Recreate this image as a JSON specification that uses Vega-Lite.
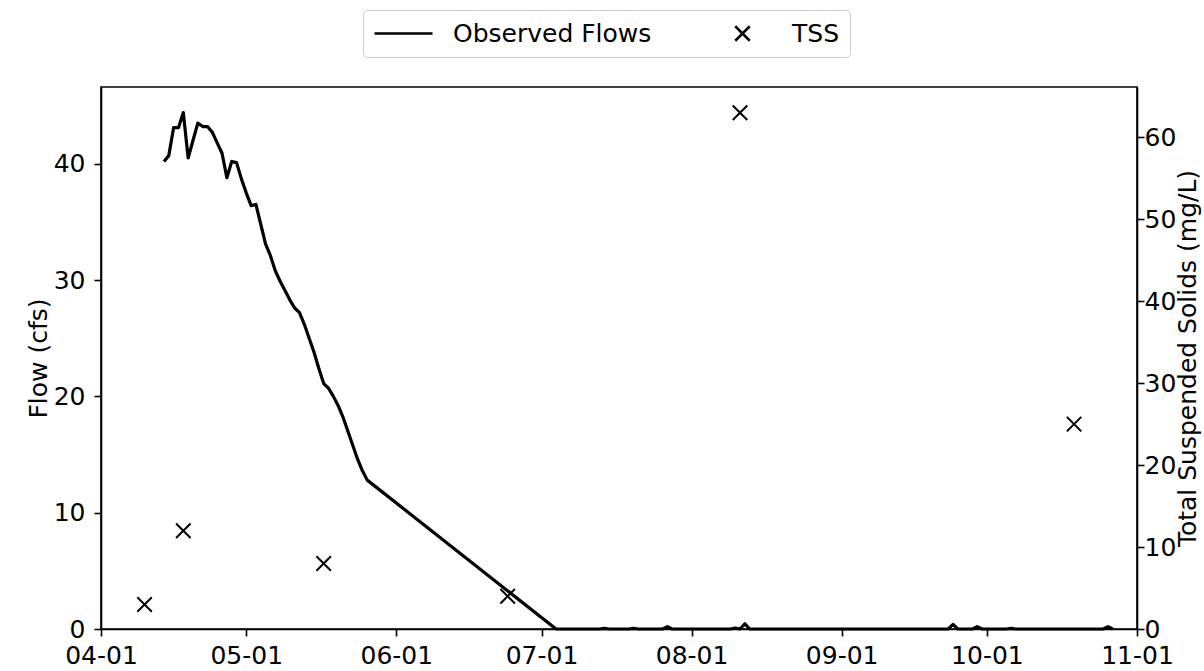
{
  "$schema": "https://vega.github.io/schema/vega-lite/v6.json",
  "width": 1036,
  "height": 542,
  "autosize": {"type": "none"},
  "padding": {"left": 101, "top": 87, "right": 67, "bottom": 42},
  "background": "white",
  "config": {
    "font": "DejaVu Sans",
    "view": {"stroke": "black", "strokeWidth": 1.6},
    "axis": {
      "domainColor": "black", "domainWidth": 1.6,
      "tickColor": "black", "tickWidth": 1.6, "tickSize": 7,
      "labelFontSize": 25, "labelColor": "black", "labelPadding": 6,
      "titleFontSize": 25, "titleFontWeight": "normal", "titleColor": "black",
      "grid": false, "labelOverlap": false
    }
  },
  "datasets": {
    "flow": [
      {"date": "2021-04-14T00:00:00", "flow": 40.2},
      {"date": "2021-04-15T00:00:00", "flow": 40.7},
      {"date": "2021-04-16T00:00:00", "flow": 43.1},
      {"date": "2021-04-17T00:00:00", "flow": 43.1},
      {"date": "2021-04-18T00:00:00", "flow": 44.4},
      {"date": "2021-04-19T00:00:00", "flow": 40.5},
      {"date": "2021-04-20T00:00:00", "flow": 42.0},
      {"date": "2021-04-21T00:00:00", "flow": 43.5},
      {"date": "2021-04-22T00:00:00", "flow": 43.2},
      {"date": "2021-04-23T00:00:00", "flow": 43.2},
      {"date": "2021-04-24T00:00:00", "flow": 42.7},
      {"date": "2021-04-25T00:00:00", "flow": 41.8},
      {"date": "2021-04-26T00:00:00", "flow": 40.9},
      {"date": "2021-04-27T00:00:00", "flow": 38.8},
      {"date": "2021-04-28T00:00:00", "flow": 40.2},
      {"date": "2021-04-29T00:00:00", "flow": 40.1},
      {"date": "2021-04-30T00:00:00", "flow": 38.7},
      {"date": "2021-05-01T00:00:00", "flow": 37.5},
      {"date": "2021-05-02T00:00:00", "flow": 36.4},
      {"date": "2021-05-03T00:00:00", "flow": 36.5},
      {"date": "2021-05-04T00:00:00", "flow": 34.8},
      {"date": "2021-05-05T00:00:00", "flow": 33.1},
      {"date": "2021-05-06T00:00:00", "flow": 32.1},
      {"date": "2021-05-07T00:00:00", "flow": 30.8},
      {"date": "2021-05-08T00:00:00", "flow": 29.9},
      {"date": "2021-05-09T00:00:00", "flow": 29.1},
      {"date": "2021-05-10T00:00:00", "flow": 28.3},
      {"date": "2021-05-11T00:00:00", "flow": 27.6},
      {"date": "2021-05-12T00:00:00", "flow": 27.2},
      {"date": "2021-05-13T00:00:00", "flow": 26.2},
      {"date": "2021-05-14T00:00:00", "flow": 25.0},
      {"date": "2021-05-15T00:00:00", "flow": 23.8},
      {"date": "2021-05-16T00:00:00", "flow": 22.4},
      {"date": "2021-05-17T00:00:00", "flow": 21.1},
      {"date": "2021-05-18T00:00:00", "flow": 20.7},
      {"date": "2021-05-19T00:00:00", "flow": 20.0},
      {"date": "2021-05-20T00:00:00", "flow": 19.2},
      {"date": "2021-05-21T00:00:00", "flow": 18.2},
      {"date": "2021-05-22T00:00:00", "flow": 17.0},
      {"date": "2021-05-23T00:00:00", "flow": 15.8},
      {"date": "2021-05-24T00:00:00", "flow": 14.6},
      {"date": "2021-05-25T00:00:00", "flow": 13.6},
      {"date": "2021-05-26T00:00:00", "flow": 12.8},
      {"date": "2021-07-04T00:00:00", "flow": 0},
      {"date": "2021-07-13T00:00:00", "flow": 0},
      {"date": "2021-07-14T00:00:00", "flow": 0.05},
      {"date": "2021-07-15T00:00:00", "flow": 0},
      {"date": "2021-07-19T00:00:00", "flow": 0},
      {"date": "2021-07-20T00:00:00", "flow": 0.05},
      {"date": "2021-07-21T00:00:00", "flow": 0},
      {"date": "2021-07-26T00:00:00", "flow": 0},
      {"date": "2021-07-27T00:00:00", "flow": 0.2},
      {"date": "2021-07-28T00:00:00", "flow": 0},
      {"date": "2021-08-09T00:00:00", "flow": 0},
      {"date": "2021-08-10T00:00:00", "flow": 0.08},
      {"date": "2021-08-11T00:00:00", "flow": 0},
      {"date": "2021-08-12T00:00:00", "flow": 0.45},
      {"date": "2021-08-13T00:00:00", "flow": 0},
      {"date": "2021-09-23T00:00:00", "flow": 0},
      {"date": "2021-09-24T00:00:00", "flow": 0.4},
      {"date": "2021-09-25T00:00:00", "flow": 0},
      {"date": "2021-09-28T00:00:00", "flow": 0},
      {"date": "2021-09-29T00:00:00", "flow": 0.2},
      {"date": "2021-09-30T00:00:00", "flow": 0},
      {"date": "2021-10-05T00:00:00", "flow": 0},
      {"date": "2021-10-06T00:00:00", "flow": 0.05},
      {"date": "2021-10-07T00:00:00", "flow": 0},
      {"date": "2021-10-25T00:00:00", "flow": 0},
      {"date": "2021-10-26T00:00:00", "flow": 0.2},
      {"date": "2021-10-27T00:00:00", "flow": 0}
    ],
    "tss": [
      {"date": "2021-04-10T00:00:00", "tss": 3, "series": "TSS"},
      {"date": "2021-04-18T00:00:00", "tss": 12, "series": "TSS"},
      {"date": "2021-05-17T00:00:00", "tss": 8, "series": "TSS"},
      {"date": "2021-06-24T00:00:00", "tss": 4, "series": "TSS"},
      {"date": "2021-08-11T00:00:00", "tss": 63, "series": "TSS"},
      {"date": "2021-10-19T00:00:00", "tss": 25, "series": "TSS"}
    ]
  },
  "layer": [
    {
      "data": {"name": "flow"},
      "mark": {"type": "line", "color": "black", "strokeWidth": 3.2, "strokeJoin": "round"},
      "encoding": {
        "x": {
          "field": "date", "type": "temporal",
          "scale": {"domain": [{"year": 2021, "month": 4, "date": 1}, {"year": 2021, "month": 11, "date": 1}]},
          "axis": {"format": "%m-%d", "tickCount": {"interval": "month", "step": 1}, "title": null, "labelFlush": false, "labelPadding": 7}
        },
        "y": {
          "field": "flow", "type": "quantitative",
          "scale": {"domain": [0, 46.6], "nice": false},
          "axis": {"values": [0, 10, 20, 30, 40], "title": "Flow (cfs)", "titlePadding": 2, "labelPadding": 9}
        }
      }
    },
    {
      "data": {"name": "tss"},
      "mark": {"type": "point", "filled": false, "color": "black", "opacity": 1, "size": 3364, "strokeWidth": 2},
      "encoding": {
        "x": {"field": "date", "type": "temporal"},
        "y": {
          "field": "tss", "type": "quantitative",
          "scale": {"domain": [0, 66.15], "nice": false},
          "axis": {"orient": "right", "values": [0, 10, 20, 30, 40, 50, 60], "title": "Total Suspended Solids (mg/L)", "titleAngle": 270, "titleBaseline": "top", "titlePadding": 0, "labelPadding": 0}
        },
        "shape": {
          "field": "series", "type": "nominal",
          "scale": {"domain": ["Observed Flows", "TSS"], "range": ["M-1,0L1,0", "M-0.25,-0.25L0.25,0.25M-0.25,0.25L0.25,-0.25"]},
          "legend": {
            "title": null, "orient": "none", "legendX": 262, "legendY": -77,
            "direction": "horizontal", "columns": 2,
            "labelFontSize": 25, "labelColor": "black", "labelLimit": 400,
            "symbolSize": 3364, "symbolStrokeColor": "black", "symbolFillColor": "transparent", "symbolStrokeWidth": 2.5,
            "symbolOpacity": 1, "clipHeight": 27,
            "padding": 10, "strokeColor": "#cccccc", "fillColor": "white", "cornerRadius": 4,
            "labelOffset": 19, "columnPadding": 60,
            "encode": {"symbols": {"update": {"strokeWidth": {"signal": "datum.value === 'TSS' ? 2 : 3.5"}}}}
          }
        }
      }
    }
  ],
  "resolve": {"scale": {"y": "independent"}}
}
